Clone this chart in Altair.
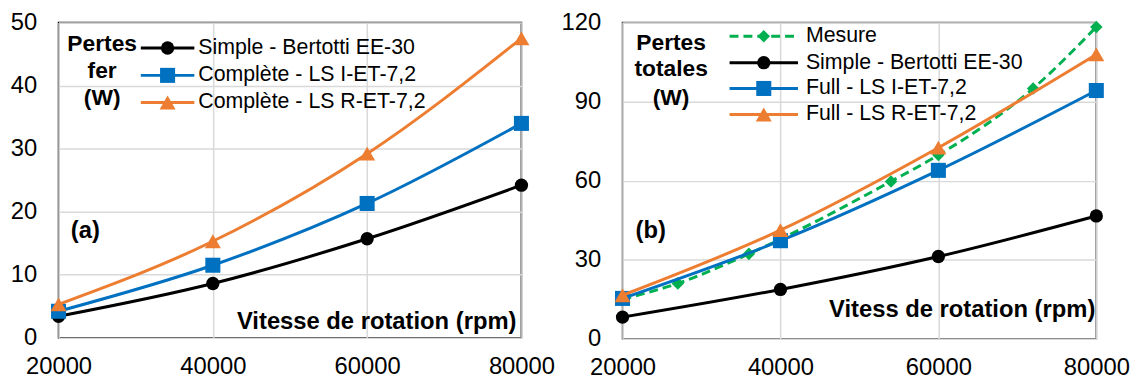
import altair as alt
import pandas as pd

# ---------------- data ----------------
rpm = [20000, 40000, 60000, 80000]

# (a) Pertes fer (W)
fer_simple = [3.4, 8.6, 15.7, 24.2]
fer_ls_i = [4.2, 11.5, 21.3, 34.0]
fer_ls_r = [5.3, 15.3, 29.2, 47.5]

# (b) Pertes totales (W)
mes_rpm = [20000, 27000, 36000, 54000, 60000, 72000, 80000]
tot_mesure = [15.0, 21.0, 32.2, 59.7, 69.7, 95.0, 118.3]
tot_simple = [8.2, 18.7, 31.2, 46.6]
tot_ls_i = [15.3, 37.2, 63.9, 94.2]
tot_ls_r = [16.5, 41.2, 72.5, 107.9]

names_a = ["Simple - Bertotti EE-30", "Complète - LS I-ET-7,2", "Complète - LS R-ET-7,2"]
names_b = ["Mesure", "Simple - Bertotti EE-30", "Full - LS I-ET-7,2", "Full - LS R-ET-7,2"]

FONT = "Liberation Sans, Arial, sans-serif"
BLACK, BLUE, ORANGE, GREEN = "#000000", "#0070C0", "#ED7D31", "#00B050"


def long_df(series):
    rows = []
    for name, xs, ys in series:
        for x, y in zip(xs, ys):
            rows.append({"series": name, "rpm": x, "val": y})
    return pd.DataFrame(rows)


def panel(df, names, colors, shapes, sizes, dashes, ymax, ystep, width, height,
          leg, title_lines, title_pos, letter, letter_pos, xtitle, xtitle_pos, frame):
    xsc = alt.Scale(domain=[20000, 80000], nice=False, zero=False)
    ysc = alt.Scale(domain=[0, ymax], nice=False)
    xax = alt.Axis(values=[20000, 40000, 60000, 80000], format="d", title=None,
                   ticks=False, domain=False, labelFontSize=24, labelFont=FONT,
                   labelColor="#000", labelPadding=17, gridColor="#D9D9D9",
                   gridWidth=1.5, labelFlush=False)
    yax = alt.Axis(values=list(range(0, ymax + 1, ystep)), title=None, ticks=False,
                   domain=False, labelFontSize=24, labelFont=FONT, labelColor="#000",
                   labelPadding=22, gridColor="#D9D9D9", gridWidth=1.5)
    base = alt.Chart(df)
    layers = []
    for name, col, shp, sz, dash in zip(names, colors, shapes, sizes, dashes):
        sub = base.transform_filter(alt.datum.series == name)
        line_kw = dict(strokeWidth=3, interpolate="monotone", color=col)
        if dash:
            line_kw["strokeDash"] = dash
        layers.append(sub.mark_line(**line_kw).encode(
            x=alt.X("rpm:Q", scale=xsc, axis=xax),
            y=alt.Y("val:Q", scale=ysc, axis=yax)))
        layers.append(sub.mark_point(filled=True, shape=shp, size=sz, color=col, opacity=1).encode(
            x=alt.X("rpm:Q", scale=xsc), y=alt.Y("val:Q", scale=ysc)))
    # legend
    (x0, x1, tx, ys) = leg
    for name, col, shp, sz, dash, yy in zip(names, colors, shapes, sizes, dashes, ys):
        ld = pd.DataFrame({"label": [name]})
        rk = dict(color=col, strokeWidth=3)
        if dash:
            rk["strokeDash"] = dash
        layers.append(alt.Chart(ld).mark_rule(**rk).encode(
            x=alt.value(x0), x2=alt.value(x1), y=alt.value(yy)))
        layers.append(alt.Chart(ld).mark_point(filled=True, shape=shp, size=sz, color=col, opacity=1).encode(
            x=alt.value((x0 + x1) / 2), y=alt.value(yy)))
        layers.append(alt.Chart(ld).mark_text(align="left", baseline="middle", fontSize=21.5,
                                              font=FONT, color="#000").encode(
            x=alt.value(tx), y=alt.value(yy), text="label:N"))
    # annotation texts
    tx0, tys = title_pos
    for t, yy in zip(title_lines, tys):
        layers.append(alt.Chart(pd.DataFrame({"t": [t]})).mark_text(
            align="center", baseline="middle", fontSize=23, fontWeight="bold", font=FONT,
            color="#000").encode(x=alt.value(tx0), y=alt.value(yy), text="t:N"))
    layers.append(alt.Chart(pd.DataFrame({"t": [letter]})).mark_text(
        align="center", baseline="middle", fontSize=24, fontWeight="bold", font=FONT,
        color="#000").encode(x=alt.value(letter_pos[0]), y=alt.value(letter_pos[1]), text="t:N"))
    layers.append(alt.Chart(pd.DataFrame({"t": [xtitle]})).mark_text(
        align="right", baseline="middle", fontSize=24, fontWeight="bold", font=FONT,
        color="#000").encode(x=alt.value(xtitle_pos[0]), y=alt.value(xtitle_pos[1]), text="t:N"))
    return alt.layer(*layers).properties(
        width=width, height=height,
        view=alt.ViewBackground(stroke=frame, strokeWidth=1.6))


df_a = long_df([(names_a[0], rpm, fer_simple), (names_a[1], rpm, fer_ls_i), (names_a[2], rpm, fer_ls_r)])
df_b = long_df([(names_b[0], mes_rpm, tot_mesure), (names_b[1], rpm, tot_simple),
                (names_b[2], rpm, tot_ls_i), (names_b[3], rpm, tot_ls_r)])

pa = panel(df_a, names_a, [BLACK, BLUE, ORANGE], ["circle", "square", "triangle-up"],
           [180, 230, 260], [None, None, None], 50, 10, 467, 318,
           (83, 137, 141, [25.7, 53.3, 80.7]),
           ["Pertes", "fer", "(W)"], (44, [21.7, 49.3, 76.7]),
           "(a)", (27, 210), "Vitesse de rotation (rpm)", (462, 302), "#000")

pb = panel(df_b, names_b, [GREEN, BLACK, BLUE, ORANGE], ["diamond", "circle", "square", "triangle-up"],
           [160, 180, 230, 260], [[9, 5], None, None, None], 120, 30, 478, 319,
           (108, 177, 185, [13.8, 40.5, 66.5, 92.8]),
           ["Pertes", "totales", "(W)"], (49, [20.5, 47.2, 76.2]),
           "(b)", (28.5, 210.5), "Vitess de rotation (rpm)", (477, 290.5), "#404040")

chart = alt.hconcat(pa, pb, spacing=102, bounds="flush").properties(
    padding={"left": 1, "top": 0, "right": 0, "bottom": 0}
).configure(font=FONT).configure_view(strokeWidth=1.6)

chart.save("out.html", embed_options={"renderer": "svg", "actions": False})
